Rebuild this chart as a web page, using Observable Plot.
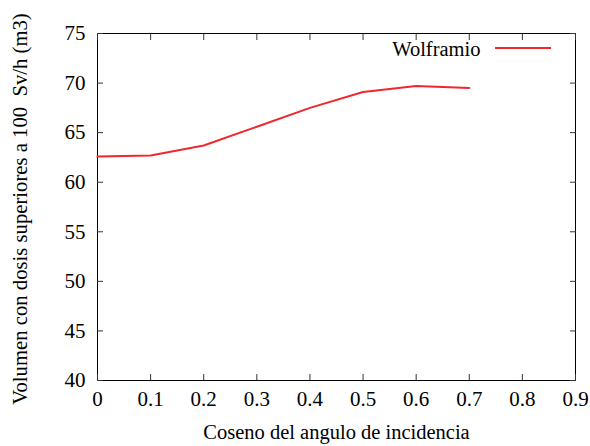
<!DOCTYPE html>
<html>
<head>
<meta charset="utf-8">
<script src="https://cdn.jsdelivr.net/npm/d3@7"></script>
<script src="https://cdn.jsdelivr.net/npm/@observablehq/plot@0.6"></script>
<style>
  html, body { margin: 0; padding: 0; background: #fff; }
  #chart svg { display: block; }
</style>
</head>
<body>
<div id="chart"></div>
<script>
const cosValues = [0, 0.1, 0.2, 0.3, 0.4, 0.5, 0.6, 0.7];
const volumeValues = [62.6, 62.7, 63.7, 65.6, 67.5, 69.1, 69.7, 69.5];
const xTicks = [0, 0.1, 0.2, 0.3, 0.4, 0.5, 0.6, 0.7, 0.8, 0.9];
const yTicks = [40, 45, 50, 55, 60, 65, 70, 75];
const seriesName = "Wolframio";
const xLabel = "Coseno del angulo de incidencia";
const yLabel = "Volumen con dosis superiores a 100  Sv/h (m3)";

const data = cosValues.map((c, i) => ({x: c, y: volumeValues[i]}));
const font = "'Liberation Serif', 'DejaVu Serif', serif";

const plot = Plot.plot({
  width: 590,
  height: 446,
  marginLeft: 97,
  marginRight: 15,
  marginTop: 33,
  marginBottom: 66,
  style: {fontFamily: font, fontSize: "21px", color: "#000", background: "#fff"},
  x: {domain: [0, 0.9]},
  y: {domain: [40, 75]},
  marks: [
    Plot.frame({stroke: "#000", strokeWidth: 1}),
    Plot.axisX(xTicks, {anchor: "bottom", tickSize: -6, text: null, label: null, stroke: "#333"}),
    Plot.axisX(xTicks, {anchor: "top", tickSize: -6, text: null, label: null, stroke: "#333"}),
    Plot.axisY(yTicks, {anchor: "left", tickSize: -6, text: null, label: null, stroke: "#333"}),
    Plot.axisY(yTicks, {anchor: "right", tickSize: -6, text: null, label: null, stroke: "#333"}),
    Plot.axisX(xTicks, {anchor: "bottom", tickSize: 0, tickPadding: 11, label: null, tickFormat: d => String(d), fontSize: 21}),
    Plot.axisY(yTicks, {anchor: "left", tickSize: 0, tickPadding: 12, label: null, tickFormat: d => String(d), fontSize: 21}),
    Plot.text([xLabel], {text: d => d, frameAnchor: "bottom", dy: 52, fontSize: 20.5, lineAnchor: "middle"}),
    Plot.text([yLabel], {text: d => d, frameAnchor: "left", textAnchor: "middle", dx: -77, dy: 2, rotate: -90, fontSize: 20.7, lineAnchor: "middle"}),
    Plot.line(data, {x: "x", y: "y", stroke: "#f0282d", strokeWidth: 2}),
    Plot.text([seriesName], {text: d => d, frameAnchor: "top-right", dx: -95, dy: 16, textAnchor: "end", fontSize: 20.5, lineAnchor: "middle"})
  ]
});

// legend swatch
const svg = d3.select(plot);
svg.append("line")
  .attr("x1", 495).attr("x2", 551)
  .attr("y1", 48).attr("y2", 48)
  .attr("stroke", "#f0282d").attr("stroke-width", 2);

document.getElementById("chart").appendChild(plot);
</script>
</body>
</html>
